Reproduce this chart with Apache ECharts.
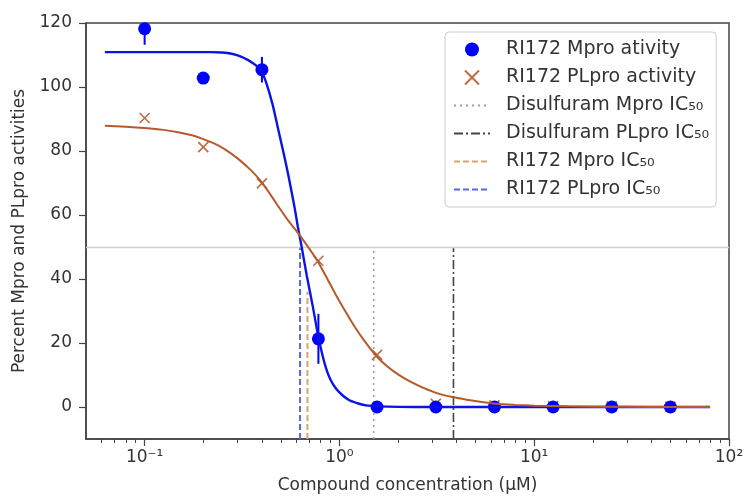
<!DOCTYPE html>
<html>
<head>
<meta charset="utf-8">
<script src="https://cdn.jsdelivr.net/npm/echarts@6/dist/echarts.min.js"></script>
<style>html,body{margin:0;padding:0;background:#fff;}#c{width:752px;height:499px;}</style>
</head>
<body>
<div id="c"></div>
<script>
// ---- data ----
const doses = [0.1, 0.2, 0.4, 0.78, 1.56, 3.125, 6.25, 12.5, 25, 50];
const mproActivity = [118.2, 102.8, 105.4, 21.3, 0, 0, 0, 0, 0, 0];
const mproError = [5, 0, 4, 7.8, 0, 0, 0, 0, 0, 0];
const plproActivity = [90.3, 81.2, 69.9, 45.7, 16.3, 1, 0.5, 0.3, 0.2, 0.1];

const mproFitX = [0.0625, 0.1, 0.15, 0.2, 0.22, 0.25, 0.28, 0.31, 0.34, 0.37, 0.396, 0.42, 0.454, 0.48, 0.512, 0.54, 0.565, 0.59, 0.611, 0.64, 0.68, 0.729, 0.76, 0.783, 0.82, 0.855, 0.9, 0.962, 1.04, 1.125, 1.25, 1.37, 1.6, 2, 3, 5, 10, 20, 40, 80];
const mproFitY = [110.9, 110.9, 110.9, 110.9, 110.9, 110.8, 110.4, 109.6, 108.4, 106.9, 105.2, 101.5, 94.5, 88, 80.5, 74, 68, 62, 56.5, 50, 41, 31.6, 25.5, 21.3, 16, 12, 8.5, 5.7, 3.6, 2.1, 1.1, 0.5, 0.2, 0.05, 0, 0, 0, 0, 0, 0];
const plproFitX = [0.0625, 0.08, 0.1, 0.125, 0.151, 0.175, 0.2, 0.23, 0.262, 0.3, 0.35, 0.396, 0.44, 0.492, 0.55, 0.623, 0.7, 0.775, 0.85, 0.95, 1.08, 1.2, 1.35, 1.54, 1.75, 2.0, 2.3, 2.7, 3.26, 3.8, 4.5, 5.5, 6.4, 8, 10, 15, 20, 40, 80];
const plproFitY = [87.9, 87.6, 87.2, 86.6, 85.8, 84.9, 83.7, 82.2, 80.3, 77.7, 74.1, 70.5, 66.6, 62.2, 58, 53.8, 49.5, 45.5, 41, 35.5, 29.6, 25, 20.5, 16.1, 12.8, 10.2, 8.0, 6.0, 4.1, 3.1, 2.3, 1.5, 1.0, 0.65, 0.4, 0.2, 0.1, 0.02, 0];

const ic50Names = ['Disulfuram Mpro IC\u2085\u2080', 'Disulfuram PLpro IC\u2085\u2080', 'RI172 Mpro IC\u2085\u2080', 'RI172 PLpro IC\u2085\u2080'];
const ic50Values = [1.5, 3.85, 0.685, 0.628];
const ic50Bottom = [-10, -10, -10, -10];
const ic50Top = [50, 50, 36, 50];
const halfLevel = 50;

const scatterNames = ['RI172 Mpro ativity', 'RI172 PLpro activity'];
const xMajorTicks = [0.1, 1, 10, 100];
const xTickLabels = ['10\u207B\u00B9', '10\u2070', '10\u00B9', '10\u00B2'];
const xMinorTicks = [0.06, 0.07, 0.08, 0.09, 0.2, 0.3, 0.4, 0.5, 0.6, 0.7, 0.8, 0.9, 2, 3, 4, 5, 6, 7, 8, 9, 20, 30, 40, 50, 60, 70, 80, 90];
const yTicks = [0, 20, 40, 60, 80, 100, 120];
const xName = 'Compound concentration (\u00B5M)';
const yName = 'Percent Mpro and PLpro activities';

// ---- chart ----
const FONT = 'DejaVu Sans';
const axisColor = '#444';
const xMin = 0.05, xMax = 100, yMin = -10, yMax = 120;

const ic50Styles = [
  {color: '#a0a0a0', type: [2, 4], width: 1.6},
  {color: '#444444', type: [9, 3, 2, 3], width: 1.6},
  {color: '#d6a66e', type: [6, 3], width: 2},
  {color: '#5868e0', type: [6, 3], width: 2}
];

const series = [];
ic50Names.forEach((n, i) => {
  const s = {
    name: n, type: 'line', xAxisIndex: 0, symbol: 'none', silent: true,
    data: [[ic50Values[i], ic50Bottom[i]], [ic50Values[i], ic50Top[i]]],
    lineStyle: ic50Styles[i], itemStyle: {color: ic50Styles[i].color}, z: 2
  };
  if (i === 0) {
    s.markLine = {silent: true, symbol: 'none', label: {show: false},
      lineStyle: {color: '#cfcfcf', type: 'solid', width: 1.3},
      data: [{yAxis: halfLevel}]};
  }
  series.push(s);
});

series.push({
  name: 'errbars', type: 'custom', xAxisIndex: 0, z: 3,
  data: doses.map((d, i) => [d, mproActivity[i], mproError[i]]),
  encode: {x: 0, y: 1},
  renderItem: function (params, api) {
    const x = api.value(0), y = api.value(1), e = api.value(2);
    if (!e) return null;
    const p1 = api.coord([x, Math.max(y - e, yMin)]);
    const p2 = api.coord([x, Math.min(y + e, yMax)]);
    return {type: 'line', shape: {x1: p1[0], y1: p1[1], x2: p2[0], y2: p2[1]},
      style: {stroke: '#0000ff', lineWidth: 2}};
  }
});

series.push({
  name: scatterNames[1], type: 'scatter', xAxisIndex: 0, z: 3,
  symbol: 'path://M0,0L10,10M10,0L0,10', symbolSize: 10,
  itemStyle: {color: 'rgba(0,0,0,0)', borderColor: '#bf6a43', borderWidth: 1.6, opacity: 1},
  data: doses.map((d, i) => [d, plproActivity[i]])
});

series.push({
  name: scatterNames[0], type: 'scatter', xAxisIndex: 0, z: 4,
  symbol: 'circle', symbolSize: 13,
  itemStyle: {color: '#0000ff', opacity: 1},
  data: doses.map((d, i) => [d, mproActivity[i]])
});

series.push({
  name: 'mprofit', type: 'line', xAxisIndex: 0, z: 5, symbol: 'none', smooth: 0.2, silent: true,
  lineStyle: {color: '#0a14e6', width: 2.4},
  data: mproFitX.map((x, i) => [x, mproFitY[i]])
});
series.push({
  name: 'plprofit', type: 'line', xAxisIndex: 0, z: 6, symbol: 'none', smooth: 0.2, silent: true,
  lineStyle: {color: '#b65a2c', width: 2},
  data: plproFitX.map((x, i) => [x, plproFitY[i]])
});

const tickLabelStyle = {fontFamily: FONT, fontSize: 17, color: '#333'};
const hiddenSymbol = {opacity: 0};

const option = {
  animation: false,
  backgroundColor: '#fff',
  grid: {left: 86, right: 23, top: 23, bottom: 59, show: true, borderColor: axisColor, borderWidth: 1.5, backgroundColor: 'rgba(0,0,0,0)'},
  legend: {
    orient: 'vertical', left: 445, top: 32,
    data: [
      {name: scatterNames[0]},
      {name: scatterNames[1]},
      ...ic50Names.map(n => ({name: n, itemStyle: hiddenSymbol}))
    ],
    itemWidth: 36, itemHeight: 14, itemGap: 9,
    padding: [8, 7, 8, 8],
    borderColor: '#cccccc', borderWidth: 1, borderRadius: 4,
    backgroundColor: 'rgba(255,255,255,0.85)',
    textStyle: {fontFamily: FONT, fontSize: 19, color: '#333', padding: [0, 0, 0, 11]}
  },
  xAxis: [
    {
      type: 'log', logBase: 10, min: xMin, max: xMax,
      name: xName, nameLocation: 'middle', nameGap: 38,
      nameTextStyle: {fontFamily: FONT, fontSize: 17, color: '#333'},
      axisLine: {show: true, onZero: false, lineStyle: {color: axisColor, width: 1.5}},
      axisTick: {show: true, length: 7, customValues: xMajorTicks, lineStyle: {color: axisColor, width: 1.2}},
      axisLabel: Object.assign({margin: 10, customValues: xMajorTicks,
        formatter: function (v) {
          const i = xMajorTicks.findIndex(m => Math.abs(Math.log10(m) - Math.log10(v)) < 1e-6);
          return i >= 0 ? xTickLabels[i] : '';
        }}, tickLabelStyle),
      splitLine: {show: false}, minorTick: {show: false}
    },
    {
      type: 'log', logBase: 10, min: xMin, max: xMax, position: 'bottom',
      axisLine: {show: false, onZero: false},
      axisTick: {show: true, length: 4, customValues: xMinorTicks, lineStyle: {color: axisColor, width: 1}},
      axisLabel: {show: false}, splitLine: {show: false}
    }
  ],
  yAxis: {
    type: 'value', min: yMin, max: yMax,
    name: yName, nameLocation: 'middle', nameGap: 58,
    nameTextStyle: {fontFamily: FONT, fontSize: 17, color: '#333'},
    axisLine: {show: true, onZero: false, lineStyle: {color: axisColor, width: 1.5}},
    axisTick: {show: true, length: 7, customValues: yTicks, lineStyle: {color: axisColor, width: 1.2}},
    axisLabel: Object.assign({margin: 14, customValues: yTicks}, tickLabelStyle),
    splitLine: {show: false}
  },
  series: series
};

const chart = echarts.init(document.getElementById('c'), null, {renderer: 'canvas'});
chart.setOption(option);
</script>
</body>
</html>
